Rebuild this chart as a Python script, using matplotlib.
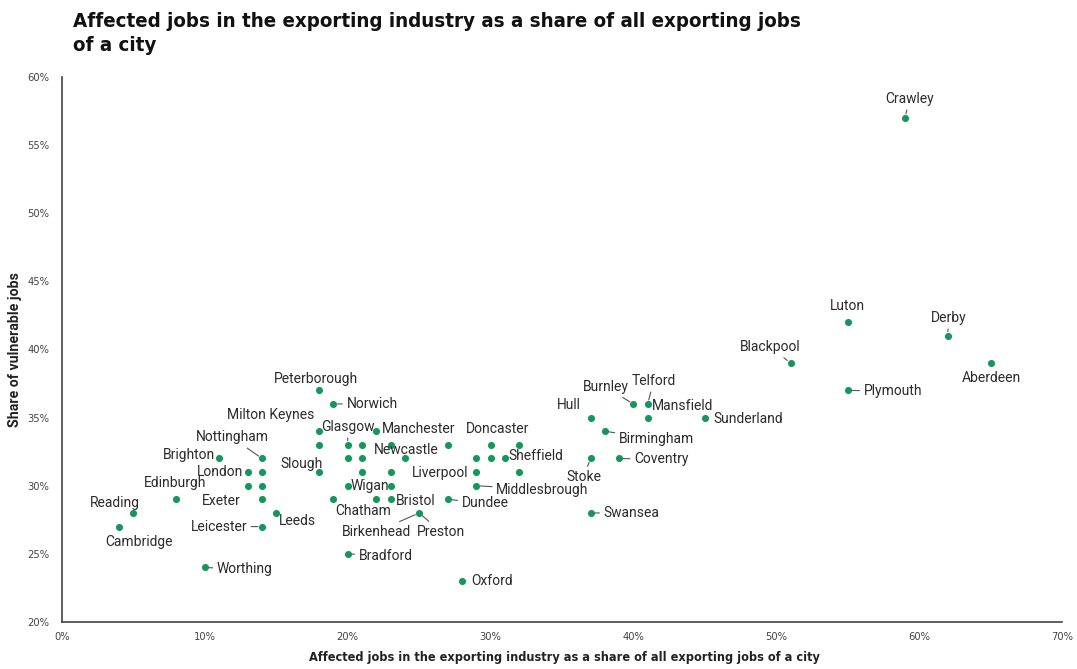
# Scatter of affected exporting jobs vs share of vulnerable jobs, by UK city
import matplotlib
matplotlib.use("Agg")
import matplotlib.pyplot as plt
from matplotlib.ticker import FuncFormatter
from matplotlib.font_manager import FontProperties, findfont

# --- data ---
cities = [
    "Crawley", "Luton", "Derby", "Aberdeen", "Blackpool", "Plymouth", "Sunderland",
    "Telford", "Mansfield", "Burnley", "Hull", "Birmingham", "Stoke", "Coventry",
    "Swansea", "Oxford", "Doncaster", "", "", "", "", "Sheffield", "Liverpool", "",
    "Middlesbrough", "Dundee", "Peterborough", "Norwich", "Milton Keynes", "",
    "Slough", "Glasgow", "", "Manchester", "", "", "", "Newcastle", "", "",
    "Wigan", "", "Chatham", "", "Bristol", "Preston", "Bradford", "Brighton",
    "Nottingham", "London", "", "", "", "Exeter", "Edinburgh", "Reading",
    "Cambridge", "Leeds", "Leicester", "Worthing",
]
affected_share = [
    59, 55, 62, 65, 51, 55, 45,
    41, 41, 40, 37, 38, 37, 39,
    37, 28, 30, 32, 27, 29, 30, 31, 29, 32,
    29, 27, 18, 19, 18, 18,
    18, 20, 21, 22, 23, 20, 21, 24, 21, 23,
    20, 23, 19, 22, 23, 25, 20, 11,
    14, 13, 14, 13, 14, 14, 8, 5,
    4, 15, 14, 10,
]
vulnerable_share = [
    57, 42, 41, 39, 39, 37, 35,
    36, 35, 36, 35, 34, 32, 32,
    28, 23, 33, 33, 33, 32, 32, 32, 31, 31,
    30, 29, 37, 36, 34, 33,
    31, 33, 33, 34, 33, 32, 32, 32, 31, 31,
    30, 30, 29, 29, 29, 28, 25, 32,
    32, 31, 31, 30, 30, 29, 29, 28,
    27, 28, 27, 24,
]

# label placement: offset in pixels from the dot (dx, dy up), alignment, leader line
label_pos = {
    "Crawley": (5, 19, "center", True), "Luton": (0, 16, "center", False),
    "Derby": (1, 18, "center", True), "Aberdeen": (1, -15, "center", False),
    "Blackpool": (-20, 16, "center", True), "Plymouth": (16, -1, "left", True),
    "Sunderland": (9, -1, "left", False), "Telford": (6, 23, "center", True),
    "Mansfield": (4, 12, "left", False), "Burnley": (-28, 17, "center", True),
    "Hull": (-22, 13, "center", False), "Birmingham": (14, -8, "left", True),
    "Coventry": (15, -1, "left", True), "Stoke": (-7, -19, "center", True),
    "Swansea": (13, 0, "left", True), "Oxford": (9, 0, "left", False),
    "Doncaster": (7, 16, "center", False), "Sheffield": (4, 2, "left", False),
    "Liverpool": (-8, -1, "right", False), "Middlesbrough": (20, -4, "left", True),
    "Dundee": (14, -4, "left", True), "Peterborough": (-3, 11, "center", False),
    "Norwich": (13, 0, "left", True), "Milton Keynes": (-5, 16, "right", False),
    "Glasgow": (0, 18, "center", True), "Manchester": (6, 2, "left", False),
    "Newcastle": (1, 8, "center", False), "Slough": (4, 8, "right", False),
    "Wigan": (3, 0, "left", False), "Bristol": (5, -2, "left", False),
    "Chatham": (30, -12, "center", False), "Preston": (22, -19, "center", True),
    "Bradford": (11, -2, "left", True), "Brighton": (-4, 3, "right", False),
    "Nottingham": (-30, 21, "center", True), "London": (-4, 0, "right", False),
    "Edinburgh": (-1, 16, "center", False), "Exeter": (-41, -2, "center", False),
    "Reading": (-19, 10, "center", False), "Cambridge": (20, -15, "center", False),
    "Leeds": (3, -8, "left", False), "Leicester": (-15, 0, "right", True),
    "Worthing": (12, -2, "left", True),
}

GREEN = "#13975a"
TEXT = "#2b2b2b"

# a condensed face for title / axis text, if one is installed
cond_path = findfont(FontProperties(family="DejaVu Sans", stretch="condensed", weight="bold"))
HAVE_COND = "Condensed" in cond_path
COND = dict(family="DejaVu Sans", stretch="condensed")
title_size = 14.7 if HAVE_COND else 13
xlab_size = 9.1 if HAVE_COND else 8

fig = plt.figure(figsize=(10.77, 6.69), dpi=100)
ax = fig.add_axes([0.0576, 0.0703, 0.9284, 0.8147])

ax.scatter(affected_share, vulnerable_share, s=26, color=GREEN, zorder=3, linewidths=0)

line_props = dict(arrowstyle="-", color="#555555", lw=0.8, shrinkA=1, shrinkB=3)
for name, x, y in zip(cities, affected_share, vulnerable_share):
    if not name:
        continue
    dx, dy, ha, line = label_pos[name]
    ax.annotate(name, (x, y), xytext=(dx, dy), textcoords="offset pixels",
                ha=ha, va="center", fontsize=10, color=TEXT, family="Roboto",
                arrowprops=line_props if line else None, zorder=4)

# a second label pointing at Preston's dot
ax.annotate("Birkenhead", (25, 28), xytext=(-43, -19), textcoords="offset pixels",
            ha="center", va="center", fontsize=10, color=TEXT, family="Roboto",
            arrowprops=line_props)

ax.set_xlim(0, 70)
ax.set_ylim(20, 60)
ax.set_xticks(range(0, 71, 10))
ax.set_yticks(range(20, 61, 5))
pct = FuncFormatter(lambda v, p: f"{v:.0f}%")
ax.xaxis.set_major_formatter(pct)
ax.yaxis.set_major_formatter(pct)
ax.tick_params(length=0, labelsize=8, colors="#444444")
ax.tick_params(axis="x", pad=7)
ax.tick_params(axis="y", pad=9)
for lab in ax.get_xticklabels() + ax.get_yticklabels():
    lab.set_family("DejaVu Sans")
    lab.set_stretch("condensed")

for side in ["top", "right"]:
    ax.spines[side].set_visible(False)
for side in ["left", "bottom"]:
    ax.spines[side].set_color("#444444")
    ax.spines[side].set_linewidth(1.2)

ax.set_xlabel("Affected jobs in the exporting industry as a share of all exporting jobs of a city",
              fontsize=xlab_size, fontweight="bold", color="#222222", **COND)
ax.xaxis.label.set_ha("left")
ax.xaxis.label.set_va("center")
ax.xaxis.set_label_coords(0.247, -0.066)

ax.set_ylabel("Share of vulnerable jobs", fontsize=10.2, fontweight="bold",
              color="#222222", family="Roboto")
ax.yaxis.label.set_va("center")
ax.yaxis.set_label_coords(-0.047, 0.5)

fig.text(0.068, 0.982, "Affected jobs in the exporting industry as a share of all exporting jobs\nof a city",
         ha="left", va="top", fontsize=title_size, fontweight="bold",
         color="#111111", linespacing=1.3, **COND)

fig.savefig("out.png", dpi=100)
